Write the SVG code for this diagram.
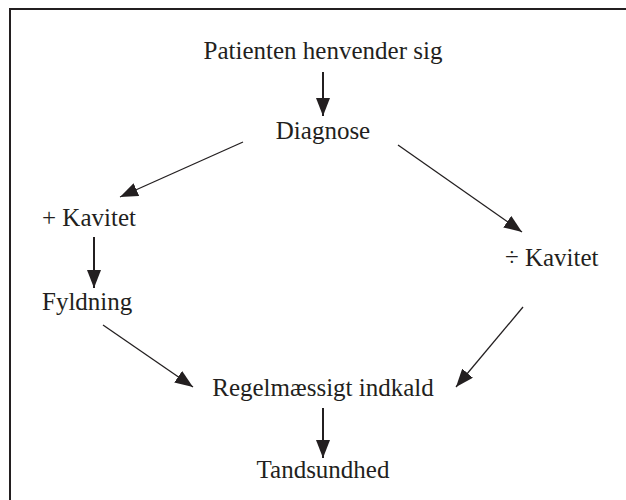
<svg xmlns="http://www.w3.org/2000/svg" width="626" height="500" viewBox="0 0 626 500">
<style>
text{font-family:"Liberation Serif","Times New Roman",serif;font-size:25px;fill:#231f20}
.c{text-anchor:middle}
.v{stroke:#231f20;stroke-width:2;fill:none}
.d{stroke:#231f20;stroke-width:1.3;fill:none}
</style>
<defs>
<marker id="ah" markerUnits="userSpaceOnUse" markerWidth="18" markerHeight="14" refX="18" refY="7" orient="auto" viewBox="0 0 18 14">
<path d="M0,0 L18,7 L0,14 z" fill="#231f20"/>
</marker>
</defs>
<rect x="10" y="9" width="640" height="520" fill="#fff" stroke="#231f20" stroke-width="2"/>
<g id="connectors">
<line class="v" x1="323" y1="72" x2="323" y2="116" marker-end="url(#ah)"/>
<line class="d" x1="243" y1="142" x2="120" y2="197" marker-end="url(#ah)"/>
<line class="d" x1="398" y1="145" x2="522" y2="232" marker-end="url(#ah)"/>
<line class="v" x1="94" y1="237" x2="94" y2="288" marker-end="url(#ah)"/>
<line class="d" x1="103" y1="325" x2="193" y2="387" marker-end="url(#ah)"/>
<line class="d" x1="523" y1="307" x2="456" y2="387" marker-end="url(#ah)"/>
<line class="v" x1="323" y1="408" x2="323" y2="458" marker-end="url(#ah)"/>
</g>
<g id="n1"><text class="c" x="323" y="59">Patienten henvender sig</text></g>
<g id="n2"><text class="c" x="323" y="139">Diagnose</text></g>
<g id="n3"><text x="42" y="226">+ Kavitet</text></g>
<g id="n4"><text x="505" y="266">÷ Kavitet</text></g>
<g id="n5"><text x="42" y="310">Fyldning</text></g>
<g id="n6"><text class="c" x="323" y="396">Regelmæssigt indkald</text></g>
<g id="n7"><text class="c" x="323" y="478">Tandsundhed</text></g>
</svg>
